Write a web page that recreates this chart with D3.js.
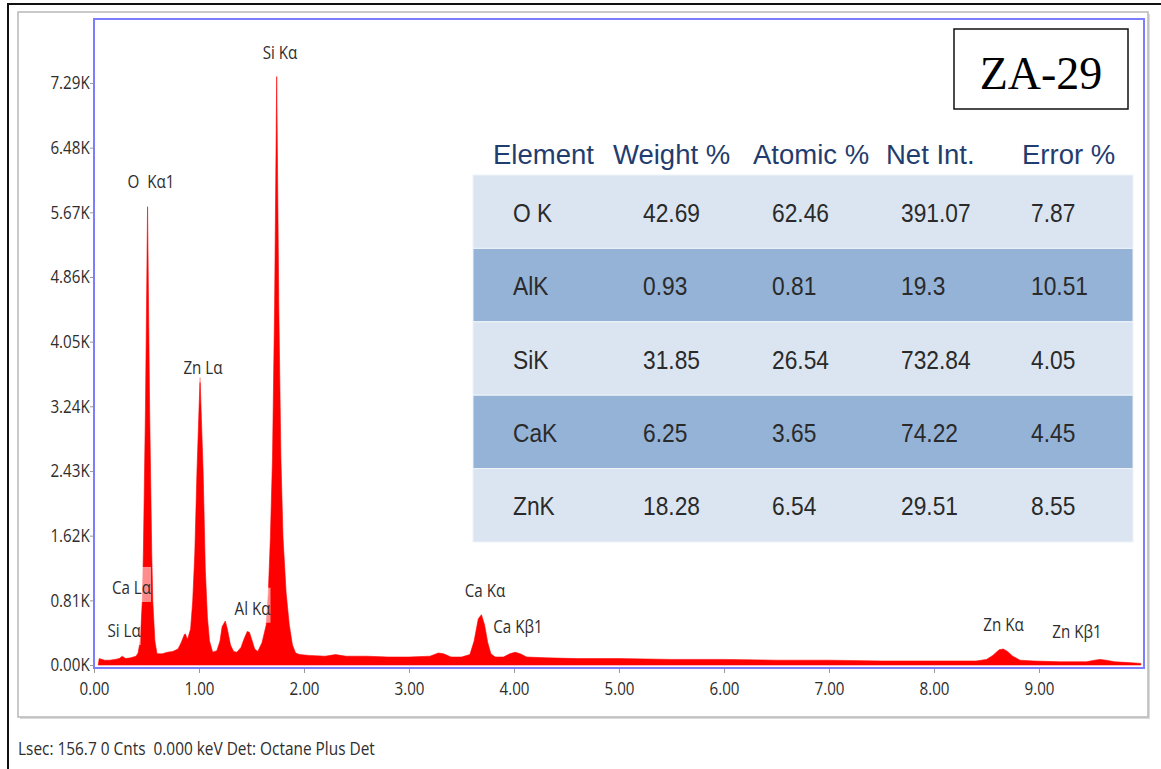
<!DOCTYPE html>
<html lang="en">
<head>
    <meta charset="UTF-8">
    <title>ZA-29 EDS Spectrum</title>
    <meta name="viewport" content="width=device-width, initial-scale=1.0">

    <script src="https://d3js.org/d3.v7.min.js"></script>

    <style>
        body { margin: 0; background: #fff; }
        svg { display: block; }
        .cond { font-family: "Open Sans", sans-serif; fill: #2e2e2e; }
    </style>

    <script>
        // spectrum (keV, counts in K)
        const energyKeV = [0.04, 0.05, 0.10, 0.15, 0.20, 0.24, 0.27, 0.30, 0.35, 0.40,
            0.42, 0.44, 0.46, 0.47, 0.49, 0.51, 0.53, 0.55, 0.56, 0.58,
            0.60, 0.65, 0.70, 0.75, 0.80, 0.83, 0.86, 0.87, 0.89, 0.92,
            0.94, 0.96, 0.98, 1.01, 1.04, 1.06, 1.08, 1.10, 1.13, 1.17,
            1.20, 1.22, 1.25, 1.27, 1.30, 1.33, 1.36, 1.40, 1.43, 1.46,
            1.48, 1.50, 1.53, 1.56, 1.60, 1.64, 1.66, 1.68, 1.70, 1.72,
            1.74, 1.76, 1.78, 1.80, 1.83, 1.86, 1.89, 1.92, 1.96, 2.05,
            2.20, 2.30, 2.40, 2.60, 2.80, 3.00, 3.20, 3.28, 3.33, 3.40,
            3.50, 3.58, 3.62, 3.66, 3.69, 3.72, 3.75, 3.78, 3.82, 3.90,
            3.96, 4.01, 4.06, 4.12, 4.30, 4.60, 5.00, 5.50, 6.00, 6.50,
            7.00, 7.50, 8.00, 8.40, 8.50, 8.56, 8.62, 8.66, 8.70, 8.75,
            8.82, 8.95, 9.20, 9.45, 9.53, 9.58, 9.64, 9.72, 9.85, 9.97];
        const countsK = [0.00, 0.08, 0.06, 0.06, 0.07, 0.08, 0.11, 0.08, 0.09, 0.11,
            0.15, 0.30, 0.80, 1.40, 3.20, 5.74, 3.20, 1.40, 0.80, 0.30,
            0.14, 0.14, 0.16, 0.17, 0.20, 0.28, 0.38, 0.39, 0.32, 0.45,
            0.80, 1.40, 2.40, 3.60, 2.40, 1.20, 0.60, 0.30, 0.16, 0.18,
            0.30, 0.48, 0.55, 0.45, 0.25, 0.17, 0.16, 0.22, 0.33, 0.42,
            0.41, 0.33, 0.20, 0.17, 0.28, 0.50, 0.90, 1.60, 2.60, 4.50,
            7.37, 4.50, 2.60, 1.60, 0.90, 0.50, 0.25, 0.15, 0.13, 0.12,
            0.11, 0.13, 0.11, 0.11, 0.10, 0.10, 0.11, 0.15, 0.14, 0.10,
            0.10, 0.13, 0.30, 0.58, 0.63, 0.50, 0.28, 0.14, 0.10, 0.10,
            0.14, 0.16, 0.14, 0.10, 0.09, 0.08, 0.08, 0.07, 0.07, 0.06,
            0.06, 0.05, 0.05, 0.05, 0.07, 0.12, 0.19, 0.20, 0.17, 0.11,
            0.06, 0.05, 0.04, 0.04, 0.06, 0.07, 0.06, 0.04, 0.03, 0.02];

        const yTicks = [0, 0.81, 1.62, 2.43, 3.24, 4.05, 4.86, 5.67, 6.48, 7.29];
        const xTicks = [0, 1, 2, 3, 4, 5, 6, 7, 8, 9];

        // peak labels: name, energy of label centre, count level of label baseline
        const peakNames = ["Si K\u03b1", "O  K\u03b11", "Zn L\u03b1", "Ca L\u03b1", "Si L\u03b1",
            "Al K\u03b1", "Ca K\u03b1", "Ca K\u03b21", "Zn K\u03b1", "Zn K\u03b21"];
        const peakEnergy = [1.771, 0.543, 1.038, 0.357, 0.286, 1.510, 3.724, 4.038, 8.662, 9.362];
        const peakCount = [7.59, 5.97, 3.64, 0.89, 0.35, 0.63, 0.85, 0.40, 0.43, 0.34];

        // quantification table
        const tableHeader = ["Element", "Weight %", "Atomic %", "Net Int.", "Error %"];
        const elements = ["O K", "AlK", "SiK", "CaK", "ZnK"];
        const weightPct = ["42.69", "0.93", "31.85", "6.25", "18.28"];
        const atomicPct = ["62.46", "0.81", "26.54", "3.65", "6.54"];
        const netInt = ["391.07", "19.3", "732.84", "74.22", "29.51"];
        const errorPct = ["7.87", "10.51", "4.05", "4.45", "8.55"];

        const sampleName = "ZA-29";
        const footerText = "Lsec: 156.7 0 Cnts  0.000 keV Det: Octane Plus Det";


        document.addEventListener("DOMContentLoaded", function() {
            script();
        });

        function script() {
            const W = 1161, H = 769;
            const plot = {left: 94, right: 1144, top: 19, base: 665, axis: 668};
            const squeeze = 0.82;

            const svg = d3.select("svg").attr("width", W).attr("height", H);

            // outer black frame (runs off the right and bottom)
            svg.append("path")
                .attr("d", "M8," + H + " V4 H" + W)
                .attr("fill", "none").attr("stroke", "#111").attr("stroke-width", 2);

            // grey panel with a soft shadow
            svg.append("rect").attr("x", 20).attr("y", 14).attr("width", 1130).attr("height", 705)
                .attr("fill", "#dcdcdc");
            svg.append("rect").attr("x", 18).attr("y", 12).attr("width", 1130).attr("height", 705)
                .attr("fill", "#fff").attr("stroke", "#b8b8b8").attr("stroke-width", 1.5);

            const x = d3.scaleLinear().domain([0, 10]).range([plot.left, plot.right]);
            const y = d3.scaleLinear().domain([0, 8.1]).range([plot.base, plot.base - 8.1 * 79.84]);

            const spectrum = d3.zip(energyKeV, countsK);

            const area = d3.area()
                .x(function(d) { return x(d[0]); })
                .y0(y(0))
                .y1(function(d) { return y(d[1]); });

            svg.append("path").datum(spectrum)
                .attr("d", area)
                .attr("fill", "#ff0000")
                .attr("stroke", "#ff0000").attr("stroke-width", 0.6);

            // peak labels
            const labels = svg.append("g").selectAll("g")
                .data(peakNames.map(function(n, i) { return {name: n, e: peakEnergy[i], c: peakCount[i]}; }))
                .enter().append("g")
                .attr("transform", function(d) { return "translate(" + x(d.e) + "," + y(d.c) + ")"; });

            const labelText = labels.append("text")
                .attr("class", "cond")
                .attr("text-anchor", "middle")
                .attr("transform", "scale(" + squeeze + ",1)")
                .style("font-size", "18.5px")
                .style("white-space", "pre")
                .text(function(d) { return d.name; });

            labelText.each(function() {
                const w = this.getComputedTextLength() * squeeze;
                d3.select(this.parentNode).insert("rect", "text")
                    .attr("x", -w / 2).attr("y", -27).attr("width", w).attr("height", 35)
                    .attr("fill", "#fff").attr("opacity", 0.55);
            });

            // sample name box
            svg.append("rect").attr("x", 954).attr("y", 29).attr("width", 174).attr("height", 80)
                .attr("fill", "#fff").attr("stroke", "#111").attr("stroke-width", 1.5);
            svg.append("text").attr("x", 1041).attr("y", 89)
                .attr("text-anchor", "middle")
                .style("font-family", "'Liberation Serif', 'Times New Roman', serif")
                .style("font-size", "46px").style("fill", "#000")
                .text(sampleName);

            // table
            const rowY = d3.scaleBand().domain(elements).range([175, 542]);
            const colX = [513, 643, 772, 901, 1031];
            const headX = [493, 613, 753, 886, 1022];
            const columns = [elements, weightPct, atomicPct, netInt, errorPct];

            svg.append("g").selectAll("text")
                .data(tableHeader).enter().append("text")
                .attr("x", function(d, i) { return headX[i]; })
                .attr("y", 164)
                .style("font-family", "'Liberation Sans', Arial, sans-serif")
                .style("font-size", "27.5px").style("fill", "#1f3d6e")
                .text(function(d) { return d; });

            svg.append("g").selectAll("rect")
                .data(elements).enter().append("rect")
                .attr("x", 473).attr("width", 660)
                .attr("y", function(d) { return rowY(d); })
                .attr("height", rowY.bandwidth())
                .attr("fill", function(d, i) { return i % 2 ? "#95b3d7" : "#dbe5f1"; })
                .attr("stroke", "#eef3f9").attr("stroke-width", 1);

            columns.forEach(function(col, ci) {
                svg.append("g").selectAll("text")
                    .data(col).enter().append("text")
                    .attr("transform", function(d, ri) {
                        return "translate(" + colX[ci] + "," + (rowY(elements[ri]) + rowY.bandwidth() / 2 + 10) + ") scale(0.86,1)";
                    })
                    .style("font-family", "'Liberation Sans', Arial, sans-serif")
                    .style("font-size", "26.5px").style("fill", "#2a2a2a")
                    .text(function(d) { return d; });
            });

            // plot frame
            svg.append("rect")
                .attr("x", plot.left).attr("y", plot.top)
                .attr("width", plot.right - plot.left).attr("height", plot.axis - plot.top)
                .attr("fill", "none").attr("stroke", "#7d7dff").attr("stroke-width", 2);

            // axes
            const yAxis = svg.append("g")
                .attr("transform", "translate(" + (plot.left - 1) + ",0)")
                .call(d3.axisLeft(y).tickValues(yTicks).tickSize(3).tickPadding(1)
                    .tickFormat(function(d) { return d3.format(".2f")(d) + "K"; }));

            const xAxis = svg.append("g")
                .attr("transform", "translate(0," + (plot.axis + 1) + ")")
                .call(d3.axisBottom(x).tickValues(xTicks).tickSize(4).tickPadding(9)
                    .tickFormat(d3.format(".2f")));

            [yAxis, xAxis].forEach(function(g) {
                g.select(".domain").remove();
                g.selectAll(".tick line").attr("stroke", "#999");
                g.selectAll(".tick text")
                    .attr("class", "cond")
                    .attr("transform", "scale(" + squeeze + ",1)")
                    .style("font-size", "18.5px");
            });

            // footer
            const foot = svg.append("text")
                .attr("class", "cond")
                .attr("x", 0).attr("y", 0)
                .style("font-size", "18.5px")
                .style("white-space", "pre")
                .text(footerText);
            const fw = foot.node().getComputedTextLength();
            foot.attr("transform", "translate(18,755) scale(" + (357 / fw) + ",1)");
        }
    </script>

</head>
<body>

    <svg id="graph"></svg>

</body>
</html>
